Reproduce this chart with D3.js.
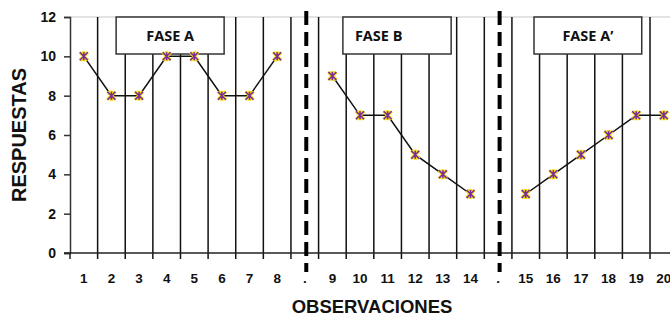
<!DOCTYPE html>
<html><head><meta charset="utf-8">
<script src="https://cdn.jsdelivr.net/npm/d3@7/dist/d3.min.js"></script>
<style>html,body{margin:0;padding:0;background:#fff;overflow:hidden}</style>
</head><body>
<svg id="c" width="670" height="318"></svg>
<script>
// ---- data ----
const categories = ["1","2","3","4","5","6","7","8",".","9","10","11","12","13","14",".","15","16","17","18","19","20"];
const values = [10,8,8,10,10,8,8,10,null,9,7,7,5,4,3,null,3,4,5,6,7,7];
const yTicks = [0,2,4,6,8,10,12];
const phases = [
  {label:"FASE A", from:1.67, to:5.58, align:"middle"},
  {label:"FASE B", from:9.88, to:13.8, align:"start"},
  {label:"FASE A\u2019", from:16.8, to:20.7, align:"middle"}
];
const separators = [8, 15];
const yTitle = "RESPUESTAS";
const xTitle = "OBSERVACIONES";

// ---- layout ----
const svg = d3.select("#c");
const padL = 70, padT = 17, padB = 253, bandW = 27.62;
const idx = categories.map((d,i)=>i);
const x = d3.scaleBand().domain(idx).range([padL, padL + bandW*categories.length]).padding(0);
const y = d3.scaleLinear().domain([0,12]).range([padB, padT]);
const bandPos = d3.scaleLinear().domain([0, categories.length]).range(x.range());

// top border
svg.append("line").attr("x1",padL).attr("x2",670).attr("y1",padT).attr("y2",padT)
  .attr("stroke","#c8c8c8").attr("stroke-width",1.2);

// vertical gridlines at band boundaries
const bounds = idx.slice(1).map(i => x(i));
svg.append("g").selectAll("line").data(bounds).join("line")
  .attr("x1",d=>d).attr("x2",d=>d).attr("y1",padT).attr("y2",padB+6)
  .attr("stroke","#111").attr("stroke-width",1.5);

// y axis
const yAxis = svg.append("g").attr("transform",`translate(${padL},0)`)
  .call(d3.axisLeft(y).tickValues(yTicks).tickSize(6).tickPadding(8));
yAxis.select(".domain").attr("stroke","#333").attr("stroke-width",1.5);
yAxis.selectAll(".tick line").attr("stroke","#333").attr("stroke-width",1.5);
yAxis.selectAll("text").attr("font-family","'Liberation Sans', Arial, sans-serif")
  .attr("font-weight","bold").attr("font-size","14px").attr("fill","#111");

// x axis
const xAxis = svg.append("g").attr("transform",`translate(0,${padB})`)
  .call(d3.axisBottom(x).tickFormat(i=>categories[i]).tickSize(0).tickPadding(20));
xAxis.select(".domain").remove();
svg.append("line").attr("x1",padL-6).attr("x2",680).attr("y1",padB).attr("y2",padB)
  .attr("stroke","#222").attr("stroke-width",1.5);
svg.append("line").attr("x1",padL).attr("x2",padL).attr("y1",padB).attr("y2",padB+6)
  .attr("stroke","#222").attr("stroke-width",1.5);
xAxis.selectAll("text").attr("font-family","'Liberation Sans', Arial, sans-serif")
  .attr("font-weight","bold").attr("font-size","13.5px").attr("fill","#111");

// phase boxes
phases.forEach(p=>{
  const x0 = bandPos(p.from), x1 = bandPos(p.to);
  svg.append("rect").attr("x",x0).attr("y",padT).attr("width",x1-x0).attr("height",37)
    .attr("fill","#fff").attr("stroke","#333").attr("stroke-width",1.5);
  svg.append("text").attr("x", p.align==="middle" ? (x0+x1)/2 : x0+12).attr("y",padT+23.5)
    .attr("text-anchor",p.align).attr("font-family","'Open Sans', sans-serif")
    .attr("font-weight","bold").attr("font-size","14.5px").attr("fill","#111").text(p.label);
});

// lines (segments broken at separators)
const line = d3.line().defined(d=>d!=null).x((d,i)=>x(i)+x.bandwidth()/2).y(d=>y(d));
svg.append("path").datum(values).attr("d",line).attr("fill","none")
  .attr("stroke","#111").attr("stroke-width",1.5);

// markers
const pts = values.map((v,i)=>({v,i})).filter(d=>d.v!=null);
const mk = svg.append("g").selectAll("g").data(pts).join("g")
  .attr("transform",d=>`translate(${x(d.i)+x.bandwidth()/2},${y(d.v)})`);
const s = 4;
mk.append("path").attr("d",`M${-s},${-s}L${s},${s}M${-s},${s}L${s},${-s}M0,${-s-1}L0,${s+1}`)
  .attr("stroke","#f0dc10").attr("stroke-width",3.2).attr("fill","none");
mk.append("path").attr("d",`M${-s},${-s}L${s},${s}M${-s},${s}L${s},${-s}M0,${-s}L0,${s}`)
  .attr("stroke","#7a2a9a").attr("stroke-width",1.5).attr("fill","none");

// dashed separators
svg.append("g").selectAll("line").data(separators).join("line")
  .attr("x1",d=>x(d)+x.bandwidth()/2+1.5).attr("x2",d=>x(d)+x.bandwidth()/2+1.5)
  .attr("y1",11).attr("y2",272)
  .attr("stroke","#000").attr("stroke-width",4).attr("stroke-dasharray","14,7");

// titles
svg.append("text").attr("transform","translate(25.5,135) rotate(-90)")
  .attr("text-anchor","middle").attr("font-family","'Liberation Sans', Arial, sans-serif")
  .attr("font-weight","bold").attr("font-size","20px").attr("fill","#111").text(yTitle);
svg.append("text").attr("x",372).attr("y",312.5)
  .attr("text-anchor","middle").attr("font-family","'Liberation Sans', Arial, sans-serif")
  .attr("font-weight","bold").attr("font-size","18.5px").attr("fill","#111").text(xTitle);
</script>
</body></html>
